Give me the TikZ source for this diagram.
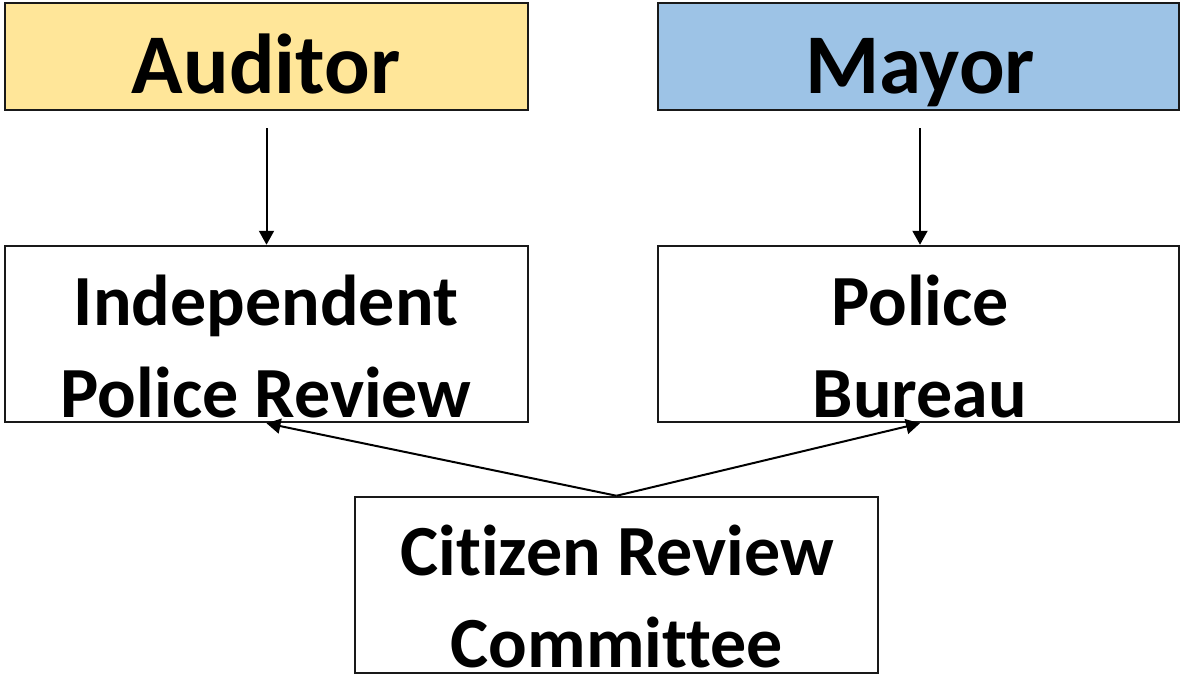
\documentclass[tikz,border=0pt]{standalone}
\usepackage{fontspec}
\setmainfont{Carlito}[Ligatures=NoCommon]
\usetikzlibrary{arrows.meta}
\definecolor{audfill}{HTML}{FFE699}
\definecolor{mayfill}{HTML}{9DC3E6}
\begin{document}
\begin{tikzpicture}[x=1pt,y=-1pt,
  box/.style={draw=black!90, line width=2.5pt, minimum width=523pt, inner sep=0pt},
  topbox/.style={box, minimum height=107pt},
  midbox/.style={box, fill=white, minimum height=176pt},
  big/.style={anchor=base, inner sep=0pt, font=\fontsize{85}{100}\selectfont\bfseries},
  lbl/.style={anchor=base, inner sep=0pt, font=\fontsize{72}{87}\selectfont\bfseries},
  link/.style={line width=2pt, -{Triangle[length=14pt,width=15pt]}}]
\useasboundingbox (0,0) rectangle (1181,675);
% top row: offices
\node[topbox, fill=audfill] (auditor) at (266.5,56.5) {};
\node[topbox, fill=mayfill, minimum width=521pt] (mayor) at (918.5,56.5) {};
\node[big] (auditor-t) at (266,93) {Auditor};
\node[big] (mayor-t) at (920,93) {Mayor};
% middle row
\node[midbox] (ipr) at (266.5,334) {};
\node[midbox, minimum width=521pt] (bureau) at (918.5,334) {};
\node[lbl] (ipr-a) at (266,325) {Independent};
\node[lbl] (ipr-b) at (266,417) {Police Review};
\node[lbl] (bureau-a) at (920,325) {Police};
\node[lbl] (bureau-b) at (920,417) {Bureau};
% bottom: committee
\node[midbox] (crc) at (616.5,585) {};
\node[lbl] (crc-a) at (617,575) {Citizen Review};
\node[lbl] (crc-b) at (617,667) {Committee};
% reporting lines
\draw[link, shorten <=17pt] (auditor.south) -- (ipr.north);
\draw[link, shorten <=17pt] (mayor.south -| bureau-a) -- (bureau.north -| bureau-a);
\draw[link] (crc.north) -- (ipr.south);
\draw[link] (crc.north) -- (bureau.south -| bureau-a);
\end{tikzpicture}
\end{document}
